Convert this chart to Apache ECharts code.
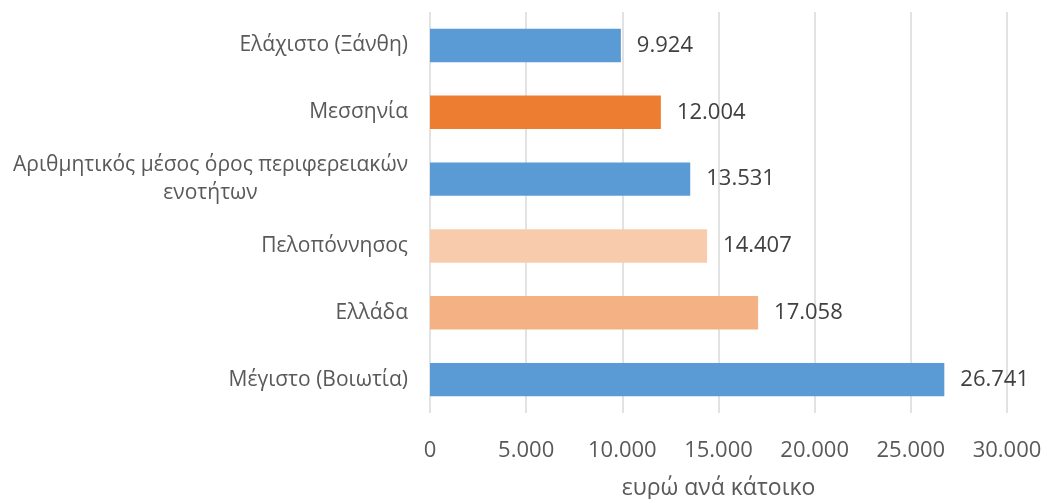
<!DOCTYPE html>
<html>
<head>
<meta charset="utf-8">
<script src="https://cdn.jsdelivr.net/npm/echarts@6/dist/echarts.min.js"></script>
<style>
  html, body { margin: 0; padding: 0; background: #fff; }
  #chart { width: 1043px; height: 499px; }
</style>
</head>
<body>
<div id="chart"></div>
<script>
// top to bottom
const categories = [
  'Ελάχιστο (Ξάνθη)',
  'Μεσσηνία',
  'Αριθμητικός μέσος όρος περιφερειακών\nενοτήτων',
  'Πελοπόννησος',
  'Ελλάδα',
  'Μέγιστο (Βοιωτία)'
];
const values = [9924, 12004, 13531, 14407, 17058, 26741];
const barColors = ['#5B9BD5', '#ED7D31', '#5B9BD5', '#F8CBAD', '#F4B183', '#5B9BD5'];

const FONT = '"Open Sans", "Noto Sans", sans-serif';
const TEXT = '#595959';

function fmt(v) {
  return String(Math.round(v)).replace(/\B(?=(\d{3})+(?!\d))/g, '.');
}

const chart = echarts.init(document.getElementById('chart'));
chart.setOption({
  animation: false,
  grid: { left: 430, right: 36, top: 12, bottom: 86, containLabel: false, outerBoundsMode: 'none' },
  xAxis: {
    type: 'value',
    min: 0,
    max: 30000,
    interval: 5000,
    name: 'ευρώ ανά κάτοικο',
    nameLocation: 'middle',
    nameGap: 64,
    nameTextStyle: { fontFamily: FONT, fontSize: 23, color: TEXT },
    axisLine: { show: false },
    axisTick: { show: false },
    axisLabel: { margin: 27, fontFamily: FONT, fontSize: 22, color: TEXT, formatter: fmt },
    splitLine: { show: true, lineStyle: { color: '#d9d9d9', width: 1.5 } }
  },
  yAxis: {
    type: 'category',
    inverse: true,
    data: categories,
    axisLine: { show: false },
    axisTick: { show: false },
    axisLabel: {
      margin: 22,
      formatter: (v) => v.split('\n').map((s) => '{c|' + s + '}').join('\n'),
      rich: { c: { fontFamily: FONT, fontSize: 21, color: TEXT, align: 'center', lineHeight: 28 } }
    }
  },
  series: [{
    type: 'bar',
    data: values.map((v, i) => ({ value: v, itemStyle: { color: barColors[i] } })),
    barCategoryGap: '50%',
    label: {
      show: true,
      position: 'right',
      distance: 16,
      fontFamily: FONT,
      fontSize: 22,
      color: '#404040',
      formatter: (p) => fmt(p.value)
    }
  }]
});
</script>
</body>
</html>
